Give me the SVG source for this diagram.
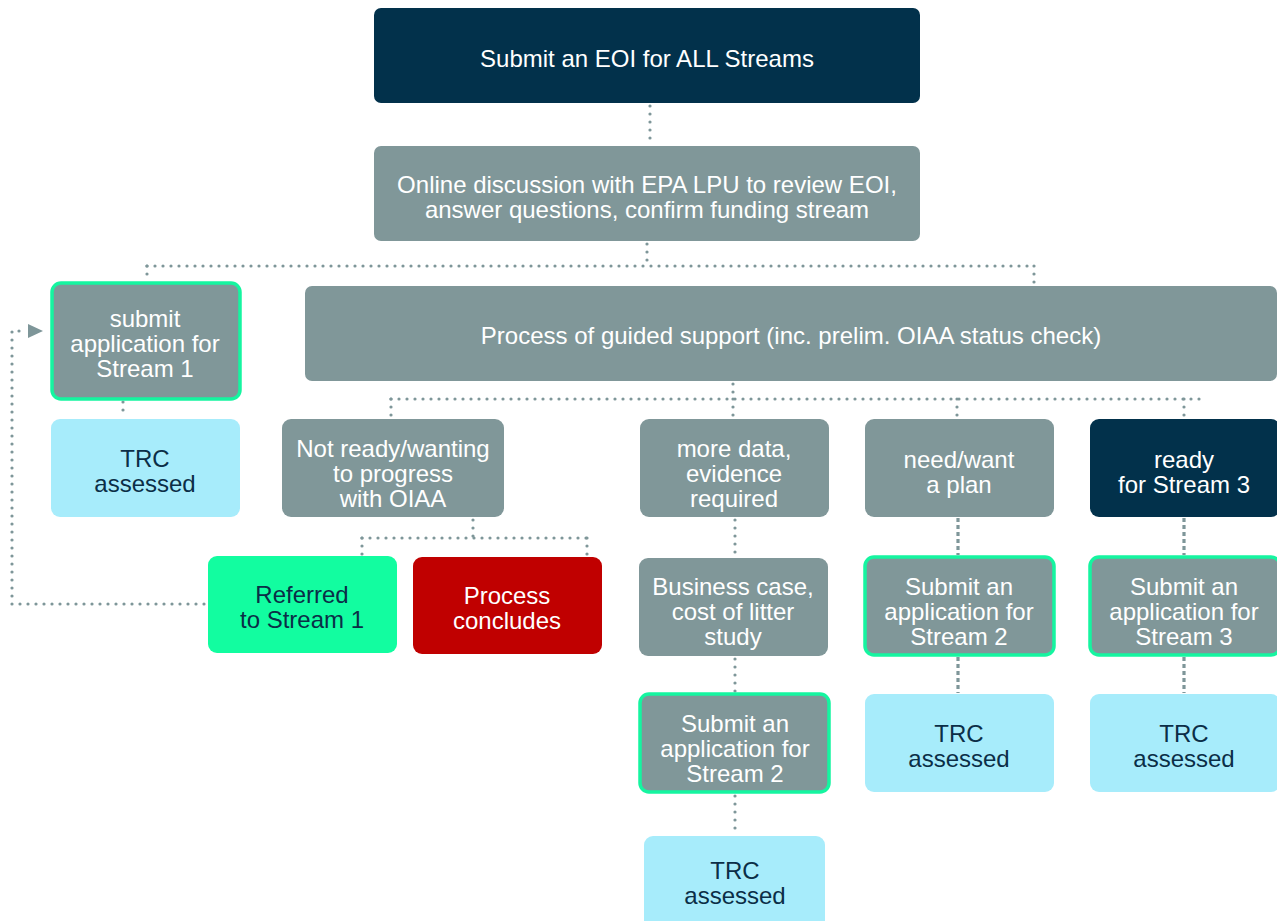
<svg xmlns="http://www.w3.org/2000/svg" width="1277" height="921" viewBox="0 0 1277 921">
<style>
text{font-family:"Liberation Sans",Arial,sans-serif;font-size:24px;text-anchor:middle}
.navy{fill:#02314b}
.gray{fill:#809799}
.light{fill:#a7ecfb}
.green{fill:#12fda0}
.red{fill:#c00000}
.hl{stroke:#15f5a0;stroke-width:3.5}
.w{fill:#ffffff}
.d{fill:#0b2e47}
.c{fill:none;stroke:#7e9699;stroke-width:3.2;stroke-linecap:round;stroke-dasharray:0 8}
.s{fill:none;stroke:#7e9699;stroke-width:3.2;stroke-dasharray:4 3}
</style>
<g id="connectors">
<path class="c" d="M650,106 V145"/>
<path class="c" d="M647,244 V266"/>
<path class="c" d="M147,266 H1034"/>
<path class="c" d="M147,266 V282"/>
<path class="c" d="M1034,266 V285"/>
<path class="c" d="M123,402 V418"/>
<path class="c" d="M733,384 V399"/>
<path class="c" d="M391,399 H1205"/>
<path class="c" d="M391,399 V418"/>
<path class="c" d="M733,399 V418"/>
<path class="c" d="M957,399 V418"/>
<path class="c" d="M1184,399 V418"/>
<path class="c" d="M473,520 V538"/>
<path class="c" d="M362,538 H587"/>
<path class="c" d="M362,538 V555"/>
<path class="c" d="M587,538 V555"/>
<path class="c" d="M735,520 V557"/>
<path class="c" d="M735,659 V692"/>
<path class="c" d="M735,796 V835"/>
<path class="s" d="M958,518 V555"/>
<path class="s" d="M958,657 V693"/>
<path class="s" d="M1184,518 V555"/>
<path class="s" d="M1184,657 V693"/>
<path class="c" d="M204,604 H12 V331 H26"/>
<path d="M28,324 L43,331 L28,338 Z" fill="#7e9699"/>
</g>
<g id="eoi">
<rect class="navy" x="374" y="8" width="546" height="95" rx="7"/>
<text class="w" x="647" y="67">Submit an EOI for ALL Streams</text>
</g>
<g id="discussion">
<rect class="gray" x="374" y="146" width="546" height="95" rx="7"/>
<text class="w" x="647" y="193">Online discussion with EPA LPU to review EOI,</text>
<text class="w" x="647" y="218">answer questions, confirm funding stream</text>
</g>
<g id="stream1">
<rect class="gray hl" x="52" y="283" width="188" height="116" rx="9"/>
<text class="w" x="145" y="327">submit</text>
<text class="w" x="145" y="352">application for</text>
<text class="w" x="145" y="377">Stream 1</text>
</g>
<g id="guided">
<rect class="gray" x="305" y="286" width="972" height="95" rx="7"/>
<text class="w" x="791" y="344">Process of guided support (inc. prelim. OIAA status check)</text>
</g>
<g id="trc1">
<rect class="light" x="51" y="419" width="189" height="98" rx="9"/>
<text class="d" x="145" y="467">TRC</text>
<text class="d" x="145" y="492">assessed</text>
</g>
<g id="notready">
<rect class="gray" x="282" y="419" width="222" height="98" rx="9"/>
<text class="w" x="393" y="457">Not ready/wanting</text>
<text class="w" x="393" y="482">to progress</text>
<text class="w" x="393" y="507">with OIAA</text>
</g>
<g id="moredata">
<rect class="gray" x="640" y="419" width="189" height="98" rx="9"/>
<text class="w" x="734" y="457">more data,</text>
<text class="w" x="734" y="482">evidence</text>
<text class="w" x="734" y="507">required</text>
</g>
<g id="plan">
<rect class="gray" x="865" y="419" width="189" height="98" rx="9"/>
<text class="w" x="959" y="468">need/want</text>
<text class="w" x="959" y="493">a plan</text>
</g>
<g id="ready3">
<rect class="navy" x="1090" y="419" width="190" height="98" rx="9"/>
<text class="w" x="1184" y="468">ready</text>
<text class="w" x="1184" y="493">for Stream 3</text>
</g>
<g id="referred">
<rect class="green" x="208" y="556" width="189" height="97" rx="9"/>
<text class="d" x="302" y="603">Referred</text>
<text class="d" x="302" y="628">to Stream 1</text>
</g>
<g id="concludes">
<rect class="red" x="413" y="557" width="189" height="97" rx="9"/>
<text class="w" x="507" y="604">Process</text>
<text class="w" x="507" y="629">concludes</text>
</g>
<g id="business">
<rect class="gray" x="639" y="558" width="189" height="98" rx="9"/>
<text class="w" x="733" y="595">Business case,</text>
<text class="w" x="733" y="620">cost of litter</text>
<text class="w" x="733" y="645">study</text>
</g>
<g id="submit2a">
<rect class="gray hl" x="640" y="694" width="189" height="98" rx="9"/>
<text class="w" x="735" y="732">Submit an</text>
<text class="w" x="735" y="757">application for</text>
<text class="w" x="735" y="782">Stream 2</text>
</g>
<g id="trc2a">
<rect class="light" x="644" y="836" width="181" height="100" rx="9"/>
<text class="d" x="735" y="879">TRC</text>
<text class="d" x="735" y="904">assessed</text>
</g>
<g id="submit2b">
<rect class="gray hl" x="865" y="557" width="189" height="98" rx="9"/>
<text class="w" x="959" y="595">Submit an</text>
<text class="w" x="959" y="620">application for</text>
<text class="w" x="959" y="645">Stream 2</text>
</g>
<g id="trc2b">
<rect class="light" x="865" y="694" width="189" height="98" rx="9"/>
<text class="d" x="959" y="742">TRC</text>
<text class="d" x="959" y="767">assessed</text>
</g>
<g id="submit3">
<rect class="gray hl" x="1090" y="557" width="190" height="98" rx="9"/>
<text class="w" x="1184" y="595">Submit an</text>
<text class="w" x="1184" y="620">application for</text>
<text class="w" x="1184" y="645">Stream 3</text>
</g>
<g id="trc3">
<rect class="light" x="1090" y="694" width="190" height="98" rx="9"/>
<text class="d" x="1184" y="742">TRC</text>
<text class="d" x="1184" y="767">assessed</text>
</g>
</svg>
